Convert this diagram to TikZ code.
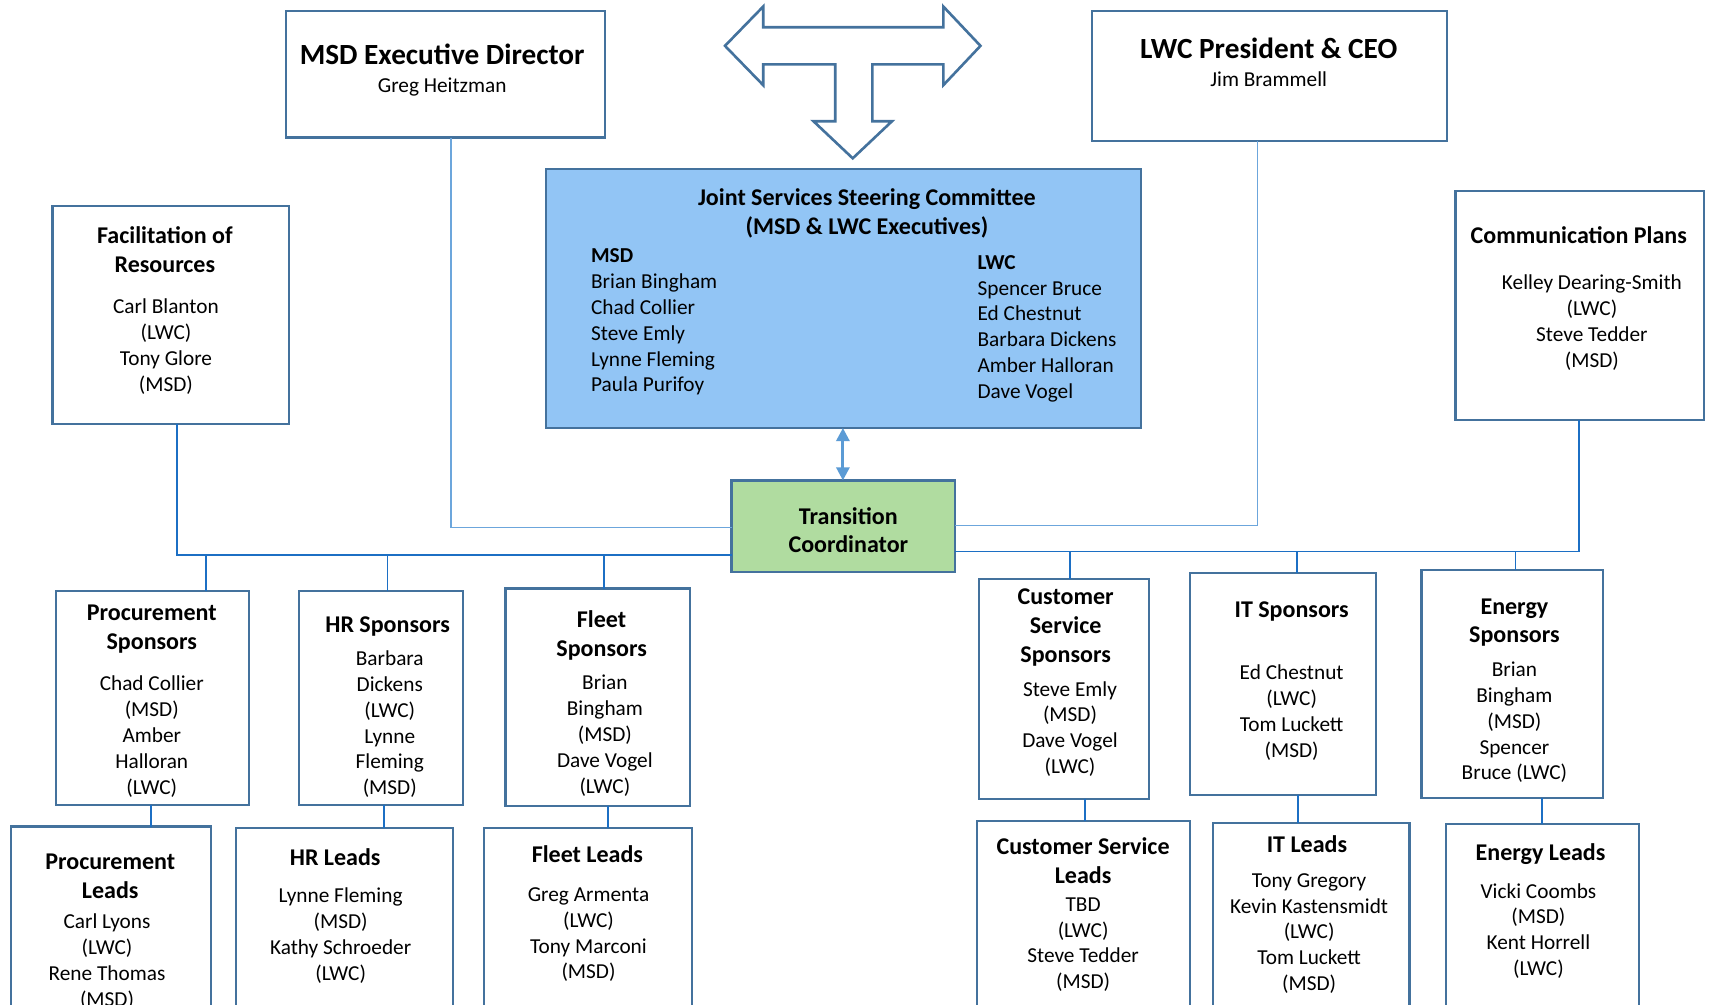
\documentclass[tikz,border=0pt]{standalone}
\usepackage{fontspec}
\setmainfont{Carlito}
\usetikzlibrary{fit,calc,arrows.meta}
\definecolor{boxc}{HTML}{44729D}
\definecolor{connc}{HTML}{1C6FC4}
\definecolor{thinc}{HTML}{6CA6DC}
\definecolor{jsscfill}{HTML}{92C5F5}
\definecolor{tcfill}{HTML}{B0DCA0}
\definecolor{arrc}{HTML}{5B9BD5}
\begin{document}
\begin{tikzpicture}[x=0.5pt,y=-0.5pt,
  box/.style={draw=boxc,line width=1pt,fill=white,inner sep=0pt,outer sep=0pt},
  conn/.style={draw=connc,line width=0.8pt},
  thinline/.style={draw=thinc,line width=0.55pt},
  big/.style={font=\fontsize{13.4pt}{16pt}\selectfont\bfseries,anchor=base,inner sep=0pt},
  hd/.style={font=\fontsize{11pt}{13.3pt}\selectfont\bfseries,align=center,anchor=base,inner sep=0pt},
  bd/.style={font=\fontsize{9.75pt}{11.85pt}\selectfont,align=center,anchor=base,inner sep=0pt},
  bdl/.style={font=\fontsize{9.75pt}{11.85pt}\selectfont,align=left,anchor=base west,inner sep=0pt},
]
\useasboundingbox (0,0) rectangle (1568,920);
\clip (0,0) rectangle (1568,920);

% ---------- boxes ----------
\node[box,fit={(262,10) (554,126)}] (msd) {};
\node[box,fit={(1000,10) (1325,129)}] (lwc) {};
\node[box,fill=jsscfill,fit={(500,155) (1045,392)}] (jssc) {};
\node[box,fill=tcfill,fit={(670,440) (875,524)}] (tc) {};
\node[box,fit={(48,189) (265,388)}] (fac) {};
\node[box,fit={(1333,175) (1561,385)}] (comm) {};

\node[box,fit={(51,541) (228,737)}] (procS) {};
\node[box,fit={(274,541) (424,737)}] (hrS) {};
\node[box,fit={(463,539) (632,738)}] (fleetS) {};
\node[box,fit={(897,530) (1052,732)}] (csS) {};
\node[box,fit={(1090,525) (1260,728)}] (itS) {};
\node[box,fit={(1302,522) (1468,731)}] (enS) {};

\node[box,fit={(10,757) (193,935)}] (procL) {};
\node[box,fit={(216,758) (415,935)}] (hrL) {};
\node[box,fit={(443,758) (634,935)}] (fleetL) {};
\node[box,fit={(895,752) (1090,935)}] (csL) {};
\node[box,fit={(1111,754) (1291,935)}] (itL) {};
\node[box,fit={(1324,755) (1501,935)}] (enL) {};

% ---------- block arrow ----------
\draw[draw=boxc,line width=1.2pt,fill=white,line join=miter]
  (664,42) -- (699,6) -- (699,25) -- (864,25) -- (864,6) -- (898,42)
  -- (864,78) -- (864,59) -- (799,59) -- (799,111) -- (817,111)
  -- (781,145) -- (745,111) -- (765,111) -- (765,59) -- (699,59)
  -- (699,78) -- cycle;

% ---------- connectors ----------
\draw[thinline] (msd.south -| 413,0) |- ($(tc.west)+(0,1)$);
\draw[thinline] (lwc.south -| 1152,0) |- ($(tc.east)+(0,-1)$);
\draw[arrc,line width=1.3pt,{Triangle[width=6pt,length=6pt]}-{Triangle[width=6pt,length=6pt]}]
  (jssc.south -| 772,0) -- (tc.north -| 772,0);

\draw[conn] (fac.south -| 162,0) |- ($(tc.west)+(0,26)$);
\draw[conn] (comm.south -| 1446,0) |- ($(tc.east)+(0,23)$);

\coordinate (b1) at (189,508);
\coordinate (b2) at (355,508);
\coordinate (b3) at (553,508);
\coordinate (b4) at (980,505);
\coordinate (b5) at (1188,505);
\coordinate (b6) at (1388,505);
\draw[conn] (b1) -- (b1 |- procS.north);
\draw[conn] (b2) -- (b2 |- hrS.north);
\draw[conn] (b3) -- (b3 |- fleetS.north);
\draw[conn] (b4) -- (b4 |- csS.north);
\draw[conn] (b5) -- (b5 |- itS.north);
\draw[conn] (b6) -- (b6 |- enS.north);

\draw[conn] (procS.south -| 138,0) -- (procL.north -| 138,0);
\draw[conn] (hrS.south -| 352,0) -- (hrL.north -| 352,0);
\draw[conn] (fleetS.south -| 557,0) -- (fleetL.north -| 557,0);
\draw[conn] (csS.south -| 994,0) -- (csL.north -| 994,0);
\draw[conn] (itS.south -| 1189,0) -- (itL.north -| 1189,0);
\draw[conn] (enS.south -| 1412,0) -- (enL.north -| 1412,0);

% ---------- texts (y = baseline of the LAST line) ----------
\node[big] (msdT) at (405,59) {MSD Executive Director};
\node[bd] (msdN) at (405,85) {Greg Heitzman};
\node[big] (lwcT) at (1162,54) {LWC President \& CEO};
\node[bd] (lwcN) at (1162,79.5) {Jim Brammell};

\node[hd] (jsscT) at (794,214.6) {Joint Services Steering Committee\\(MSD \& LWC Executives)};
\node[bdl] (jsscM) at (541,359) {\textbf{MSD}\\Brian Bingham\\Chad Collier\\Steve Emly\\Lynne Fleming\\Paula Purifoy};
\node[bdl] (jsscL) at (895,365) {\textbf{LWC}\\Spencer Bruce\\Ed Chestnut\\Barbara Dickens\\Amber Halloran\\Dave Vogel};

\node[hd,font=\fontsize{11pt}{13pt}\selectfont\bfseries] (tcT) at (777,506) {Transition\\Coordinator};

\node[hd] (facT) at (151,249.6) {Facilitation of\\Resources};
\node[bd] (facN) at (152,358.6) {Carl Blanton\\(LWC)\\Tony Glore\\(MSD)};

\node[hd] (commT) at (1446,223) {Communication Plans};
\node[bd] (commN) at (1458,336.6) {Kelley Dearing-Smith\\(LWC)\\Steve Tedder\\(MSD)};

\node[hd] (procST) at (139,594.6) {Procurement\\Sponsors};
\node[bd] (procSN) at (139,727.3) {Chad Collier\\(MSD)\\Amber\\Halloran\\(LWC)};
\node[hd] (hrST) at (355,579) {HR Sponsors};
\node[bd] (hrSN) at (357,728) {Barbara\\Dickens\\(LWC)\\Lynne\\Fleming\\(MSD)};
\node[hd] (fleetST) at (551,601.6) {Fleet\\Sponsors};
\node[bd] (fleetSN) at (554,726.3) {Brian\\Bingham\\(MSD)\\Dave Vogel\\(LWC)};
\node[hd] (csST) at (976,607.2) {Customer\\Service\\Sponsors};
\node[bd] (csSN) at (980,708.6) {Steve Emly\\(MSD)\\Dave Vogel\\(LWC)};
\node[hd] (itST) at (1183,566) {IT Sponsors};
\node[bd] (itSN) at (1183,693.6) {Ed Chestnut\\(LWC)\\Tom Luckett\\(MSD)};
\node[hd,font=\fontsize{11pt}{12.6pt}\selectfont\bfseries] (enST) at (1387,588.2) {Energy\\Sponsors};
\node[bd] (enSN) at (1387,714.3) {Brian\\Bingham\\(MSD)\\Spencer\\Bruce (LWC)};

\node[hd] (procLT) at (101,822.6) {Procurement\\Leads};
\node[bd] (procLN) at (98,921.6) {Carl Lyons\\(LWC)\\Rene Thomas\\(MSD)};
\node[hd] (hrLT) at (307,793) {HR Leads};
\node[bd] (hrLN) at (312,897.6) {Lynne Fleming\\(MSD)\\Kathy Schroeder\\(LWC)};
\node[hd] (fleetLT) at (538,790) {Fleet Leads};
\node[bd] (fleetLN) at (539,896.6) {Greg Armenta\\(LWC)\\Tony Marconi\\(MSD)};
\node[hd] (csLT) at (992,809.6) {Customer Service\\Leads};
\node[bd] (csLN) at (992,905.6) {TBD\\(LWC)\\Steve Tedder\\(MSD)};
\node[hd] (itLT) at (1197,781) {IT Leads};
\node[bd] (itLN) at (1199,907.3) {Tony Gregory\\Kevin Kastensmidt\\(LWC)\\Tom Luckett\\(MSD)};
\node[hd] (enLT) at (1411,788) {Energy Leads};
\node[bd] (enLN) at (1409,893.6) {Vicki Coombs\\(MSD)\\Kent Horrell\\(LWC)};
\end{tikzpicture}
\end{document}
